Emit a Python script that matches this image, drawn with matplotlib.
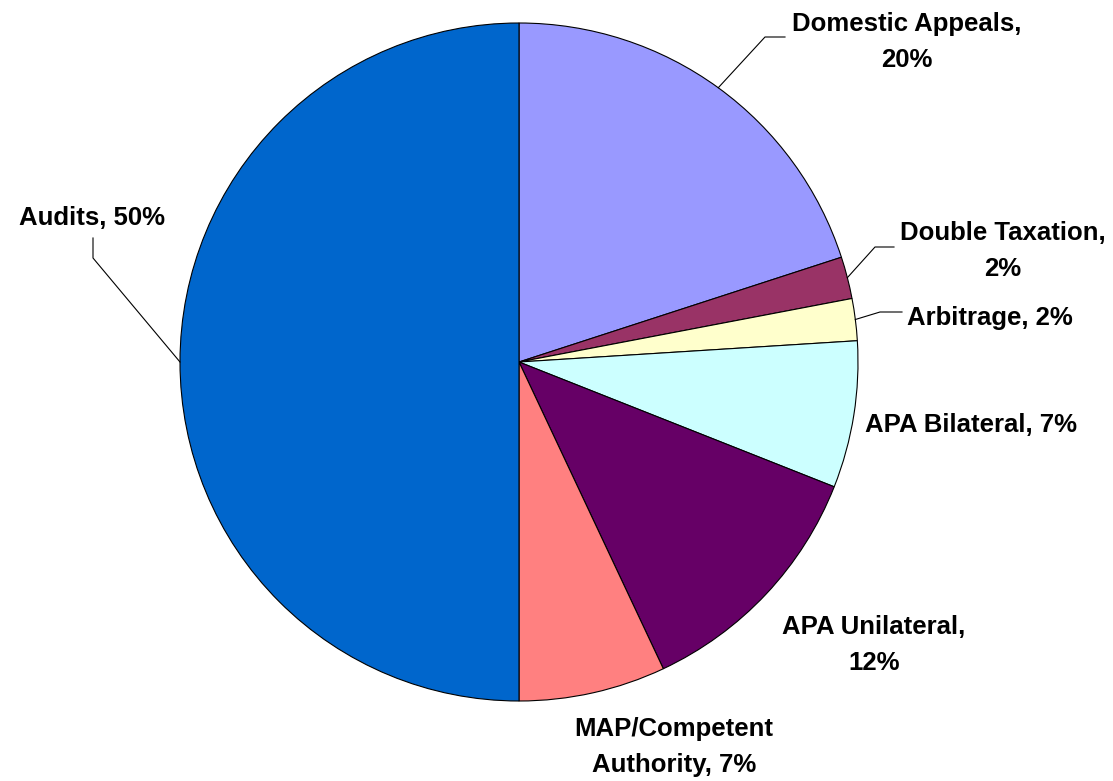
import numpy as np
import matplotlib
import matplotlib.pyplot as plt

matplotlib.use("Agg")
plt.rcParams["font.family"] = ["Liberation Sans", "DejaVu Sans"]

# share of cases by dispute channel, clockwise from 12 o'clock
categories = ["Domestic Appeals", "Double Taxation", "Arbitrage", "APA Bilateral",
              "APA Unilateral", "MAP/Competent\nAuthority", "Audits"]
shares = [20, 2, 2, 7, 12, 7, 50]
colors = ["#9999FF", "#993366", "#FFFFCC", "#CCFFFF", "#660066", "#FF8080", "#0066CC"]

# pixel layout helpers: pie centre and radius in figure pixels
W, H = 1113, 781
CX, CY, R = 519, 362, 339


def px(x, y):
    return (x - CX) / R, (CY - y) / R


fig = plt.figure(figsize=(W / 100, H / 100), dpi=100)
ax = fig.add_axes([0, 0, 1, 1])

wedges, _ = ax.pie(shares, colors=colors, startangle=90, counterclock=False,
                   radius=1.0, center=(0, 0), frame=True,
                   wedgeprops=dict(edgecolor="black", linewidth=0.8))
ax.set_xlim(-CX / R, (W - CX) / R)
ax.set_ylim(-(H - CY) / R, CY / R)
ax.axis("off")

labels = [f"{c}, {v}%" for c, v in zip(categories, shares)]
labels[0] = f"Domestic Appeals,\n{shares[0]}%"
labels[1] = f"Double Taxation,\n{shares[1]}%"
labels[4] = f"APA Unilateral,\n{shares[4]}%"

# label centres (pixels) and optional leader elbows
label_pos = [(907, 42), (1003, 251), (990, 318), (971, 425), (874, 645), (674, 747), (92, 218)]
leaders = {
    0: [(765, 37), (785, 37)],
    1: [(875, 247), (894, 247)],
    2: [(880, 312), (902, 312)],
    6: [(93, 258), (93, 238)],
}

for i, (w, lab) in enumerate(zip(wedges, labels)):
    x, y = px(*label_pos[i])
    ax.text(x, y, lab, ha="center", va="center", fontsize=18.5, fontweight="bold",
            linespacing=1.6, color="black")
    if i in leaders:
        mid = np.deg2rad((w.theta1 + w.theta2) / 2)
        pts = [(np.cos(mid), np.sin(mid))] + [px(*p) for p in leaders[i]]
        xs, ys = zip(*pts)
        ax.plot(xs, ys, color="black", linewidth=0.8)

fig.savefig("out.png", dpi=100)
